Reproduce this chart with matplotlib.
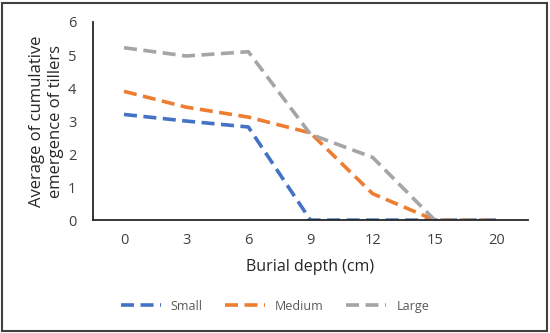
import matplotlib.pyplot as plt
from matplotlib.patches import Rectangle

depths = ["0", "3", "6", "9", "12", "15", "20"]
small = [3.2, 3.0, 2.82, 0, 0, 0, 0]
medium = [3.9, 3.42, 3.12, 2.64, 0.8, 0, 0]
large = [5.22, 4.97, 5.1, 2.6, 1.9, 0, 0]

plt.rcParams['font.family'] = ['Open Sans', 'DejaVu Sans']

fig = plt.figure(figsize=(5.5, 3.33), dpi=100)
ax = fig.add_axes([0.169, 0.339, 0.791, 0.595])

x = range(len(depths))
dash = (0, (3.6, 1.8))
ax.plot(x, small, color="#4472C4", lw=2.6, ls=dash, label="Small")
ax.plot(x, medium, color="#ED7D31", lw=2.6, ls=dash, label="Medium")
ax.plot(x, large, color="#A5A5A5", lw=2.6, ls=dash, label="Large")

ax.set_xlim(-0.5, len(depths) - 0.5)
ax.set_ylim(0, 6)
ax.set_xticks(list(x))
ax.set_xticklabels(depths)
ax.set_yticks(range(0, 7))
ax.tick_params(length=0, labelsize=10.5, colors="#404040", pad=9)
ax.tick_params(axis='y', pad=12)
for s in ["top", "right"]:
    ax.spines[s].set_visible(False)
for s in ["left", "bottom"]:
    ax.spines[s].set_color("#262626")
    ax.spines[s].set_linewidth(1.3)

ax.set_xlabel("Burial depth (cm)", fontsize=11.5, color="#262626", labelpad=8)
ax.set_ylabel("Average of cumulative\nemergence of tillers", fontsize=12,
              color="#262626", labelpad=3, linespacing=1.25)

fig.legend(loc="center", bbox_to_anchor=(0.5, 0.08), ncol=3, frameon=False,
           fontsize=9, handlelength=3.2, columnspacing=1.8,
           labelcolor="#595959")

fig.patches.append(Rectangle((0.004, 0.006), 0.99, 0.985, transform=fig.transFigure,
                             fill=False, edgecolor="#404040", lw=1.5))

fig.savefig("out.png", dpi=100)
